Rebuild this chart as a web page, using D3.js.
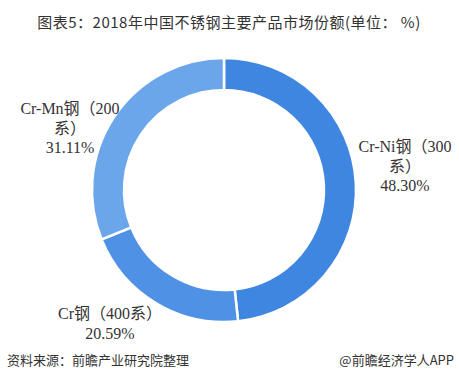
<!DOCTYPE html>
<html>
<head>
<meta charset="utf-8">
<script src="https://cdn.jsdelivr.net/npm/d3@7"></script>
<style>
	body { margin: 0; background: #fff; }
	svg { display: block; }
</style>
</head>
<body>
<div id="pie"></div>
<script>
// data
const categories = ['Cr-Ni钢（300系）', 'Cr钢（400系）', 'Cr-Mn钢（200系）']
const values = [48.30, 20.59, 31.11]
const colors = ['#3e86e0', '#4f91e4', '#6ba6eb']
// label text as it wraps in the original
const labelLines = [['Cr-Ni钢（300', '系）'], ['Cr钢（400系）'], ['Cr-Mn钢（200', '系）']]

var width = 459
var height = 387
var cx = 224
var cy = 190
var outerR = 132
var innerR = 100

// where each label block sits, relative to the centre (first baseline)
var labelPos = {
	'Cr-Ni钢（300系）': [181, -38],
	'Cr钢（400系）': [-114, 129],
	'Cr-Mn钢（200系）': [-154, -76]
}

var svg = d3.select('#pie')
	.append('svg')
	.attr('width', width)
	.attr('height', height)

var color = d3.scaleOrdinal()
	.domain(categories)
	.range(colors)

var pie = d3.pie()
	.sort(null)
	.value(d => d.value)

var arcGenerator = d3.arc()
	.innerRadius(innerR)
	.outerRadius(outerR)

var data_ready = pie(categories.map((c, i) => ({ key: c, value: values[i], lines: labelLines[i] })))

var g = svg.append('g')
	.attr('transform', 'translate(' + cx + ',' + cy + ')')

g.selectAll('path')
	.data(data_ready)
	.enter()
	.append('path')
	.attr('d', arcGenerator)
	.attr('fill', d => color(d.data.key))
	.attr('stroke', 'white')
	.attr('stroke-width', 2.5)

// labels
g.selectAll('text.label')
	.data(data_ready)
	.enter()
	.append('text')
	.attr('class', 'label')
	.attr('text-anchor', 'middle')
	.style('font-family', '"Liberation Serif", "Noto Sans CJK SC", serif')
	.style('font-size', '16px')
	.style('fill', '#333')
	.each(function(d) {
		var t = d3.select(this)
		var p = labelPos[d.data.key]
		var lines = d.data.lines.concat([d.data.value.toFixed(2) + '%'])
		lines.forEach((l, i) => {
			t.append('tspan')
				.attr('x', p[0])
				.attr('y', p[1] + i * 19.5)
				.text(l)
		})
	})

// title
svg.append('text')
	.attr('x', 229)
	.attr('y', 28)
	.attr('text-anchor', 'middle')
	.style('font-family', '"Noto Sans CJK SC", sans-serif')
	.style('font-size', '15px')
	.style('letter-spacing', '0.5px')
	.style('fill', '#333')
	.text('图表5：2018年中国不锈钢主要产品市场份额(单位：  %)')

// footer
svg.append('text')
	.attr('x', 7)
	.attr('y', 365)
	.style('font-family', '"Noto Sans CJK SC", sans-serif')
	.style('font-size', '13px')
	.style('fill', '#333')
	.text('资料来源：前瞻产业研究院整理')

svg.append('text')
	.attr('x', 454)
	.attr('y', 365)
	.attr('text-anchor', 'end')
	.style('font-family', '"Noto Sans CJK SC", sans-serif')
	.style('font-size', '13px')
	.style('fill', '#333')
	.text('@前瞻经济学人APP')
</script>
</body>
</html>
